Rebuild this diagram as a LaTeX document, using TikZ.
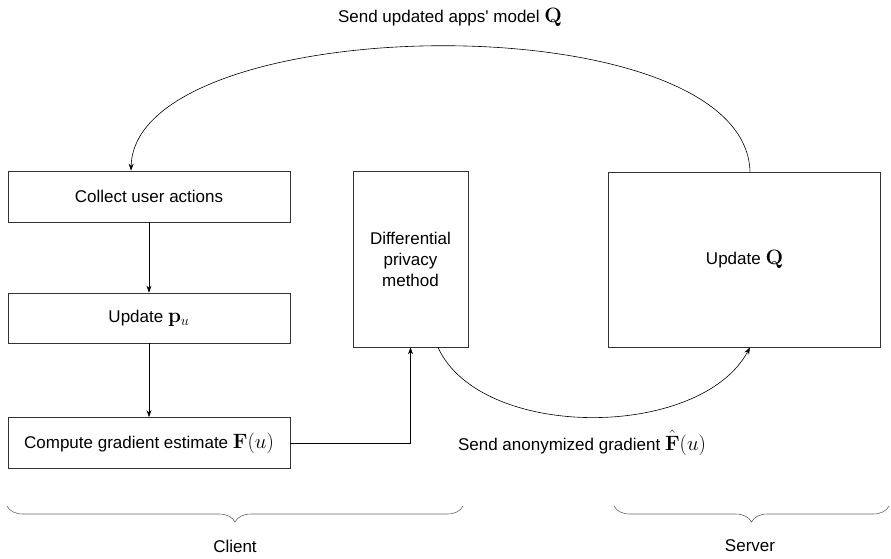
\documentclass[tikz,border=0pt]{standalone}
\usepackage[no-math]{fontspec}
\setmainfont{Liberation Sans}
\usepackage{amsmath}
\usetikzlibrary{arrows.meta,decorations.pathreplacing}
% math set a little larger than the surrounding text
\newcommand\mth[1]{{\fontsize{20}{21}\selectfont$#1$}}
\begin{document}
\begin{tikzpicture}[x=1pt,y=-1pt,
  font=\fontsize{17}{21}\selectfont,
  box/.style={draw=black!80, line width=0.7pt, rectangle, inner sep=0pt, align=center},
  link/.style={draw=black, line width=0.6pt, -{Stealth[length=7pt,width=5pt]}},
  grp/.style={draw=black!60, line width=0.6pt, decorate, decoration={brace, mirror, amplitude=16pt}}]
\useasboundingbox (0,0) rectangle (891,558);

% client side
\node[box, minimum width=282pt, minimum height=51pt] (collect) at (149,196.5) {Collect user actions};
\node[box, minimum width=282pt, minimum height=50pt] (pu) at (149,318) {Update \mth{\mathbf{p}_u}};
\node[box, minimum width=282pt, minimum height=51pt] (grad) at (149,443) {Compute gradient estimate \mth{\mathbf{F}(u)}};
\node[box, minimum width=115pt, minimum height=176pt, text width=105pt] (dp) at (410.5,259) {Differential\\privacy\\method};

% server side
\node[box, minimum width=272pt, minimum height=175pt] (upq) at (744.5,259.5) {Update \mth{\mathbf{Q}}};

% messages
\node (lblq) at (450,17) {Send updated apps\textquotesingle\ model \mth{\mathbf{Q}}};
\node (lblf) at (582,443) {Send anonymized gradient \mth{\hat{\mathbf{F}}(u)}};

% flow
\draw[link] (collect) -- (pu);
\draw[link] (pu) -- (grad);
\draw[link] (grad.east) -| (dp.south);
\draw[link] ([xshift=27.5pt]dp.south) .. controls +(42,93) and +(-50,93) .. ([xshift=5.5pt]upq.south);
\draw[link] ([xshift=5.5pt]upq.north) .. controls +(-5,-172) and +(4,-161) .. ([xshift=-18pt]collect.north);

% groups
\coordinate (cl) at (7,506);
\coordinate (cr) at (463,506);
\coordinate (sl) at (614,506);
\coordinate (sr) at (889,506);
\draw[grp] (cl) -- (cr);
\draw[grp] (sl) -- (sr);
\node (client) at (235,546) {Client};
\node (server) at (750,546) {Server};
\end{tikzpicture}
\end{document}
